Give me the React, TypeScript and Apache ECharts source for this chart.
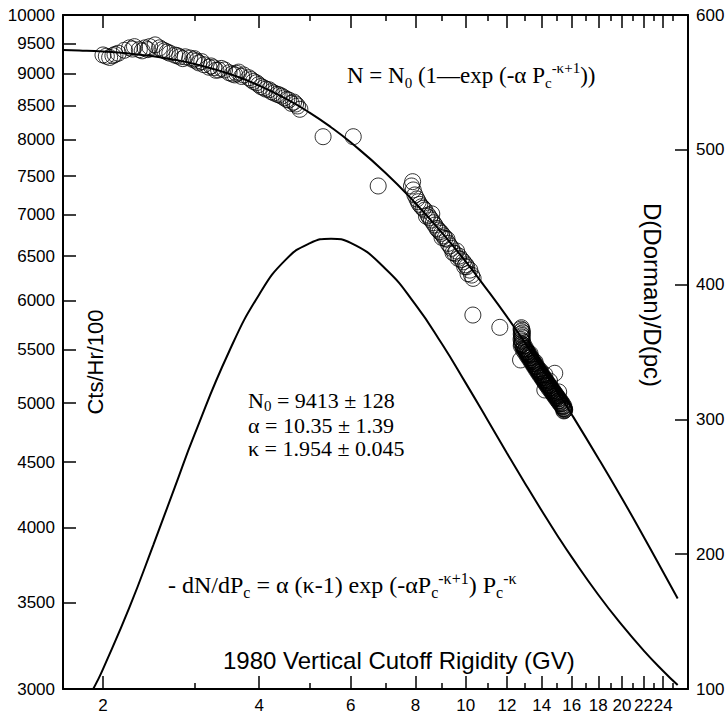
import React, { useEffect, useRef } from 'react';
import * as echarts from 'echarts';

// ---- axis ranges & ticks ----
const X_MIN = 1.675;
const X_MAX = 26.8;
const X_MAJOR = [2, 4, 6, 8, 10, 12, 14, 16, 18, 20, 22, 24];
const X_MINOR = [3, 5, 7, 9, 11, 13, 15, 17, 19, 21, 23, 25];
const Y_LEFT_MIN = 3000;
const Y_LEFT_MAX = 10000;
const Y_LEFT_TICKS = [3000, 3500, 4000, 4500, 5000, 5500, 6000, 6500, 7000, 7500, 8000, 8500, 9000, 9500, 10000];
const Y_RIGHT_MIN = 100;
const Y_RIGHT_MAX = 600;
const Y_RIGHT_STEP = 100;

// ---- observed counting rates (circles), low rigidity part ----
const OBS_P = [
  2.00, 2.03, 2.06, 2.09, 2.14, 2.20, 2.25, 2.30, 2.35, 2.38, 2.41, 2.46, 2.52, 2.57, 2.60, 2.63, 2.69, 2.75, 2.78, 2.81,
  2.88, 2.94, 2.99, 3.00, 3.06, 3.10, 3.13, 3.20, 3.27, 3.30, 3.34, 3.43, 3.50, 3.55, 3.59, 3.65, 3.70, 3.73, 3.82, 3.90,
  3.95, 3.99, 4.08, 4.12, 4.18, 4.27, 4.33, 4.37, 4.47, 4.52, 4.56, 4.66, 4.70, 4.74, 4.79,
  2.11, 2.28, 2.44, 2.66, 2.85, 3.03, 3.23, 3.38, 3.62, 3.86, 4.03, 4.22, 4.42, 4.61,
  5.31, 6.07, 6.78,
  7.86, 7.90, 7.92, 7.98, 8.05, 8.10, 8.22, 8.34, 8.40, 8.46, 8.59, 8.60, 8.72, 8.80, 8.85, 8.98, 9.00, 9.12, 9.20, 9.25,
  9.39, 9.45, 9.53, 9.67, 9.70, 9.89, 9.95, 10.04, 10.10, 10.18, 10.26, 10.33,
  8.15, 8.28, 8.52, 8.66, 8.92, 9.06, 9.32, 9.60, 9.80, 10.0,
  10.32, 11.63,
];
const OBS_N = [
  9311, 9290, 9270, 9300, 9340, 9390, 9430, 9450, 9400, 9380, 9430, 9450, 9480, 9430, 9400, 9380, 9340, 9310, 9300, 9280,
  9280, 9260, 9230, 9250, 9180, 9200, 9150, 9110, 9100, 9060, 9065, 9065, 9020, 9000, 8985, 9030, 8960, 8985, 8940, 8880,
  8860, 8830, 8780, 8760, 8750, 8700, 8680, 8670, 8625, 8600, 8590, 8560, 8530, 8500, 8450,
  9320, 9410, 9400, 9360, 9250, 9210, 9130, 9090, 9010, 8910, 8800, 8720, 8650, 8540,
  8046, 8046, 7368,
  7368, 7425, 7316, 7251, 7200, 7164, 7100, 7058, 6980, 6995, 6933, 7010, 6871, 6830, 6810, 6770, 6720, 6710, 6700, 6650,
  6591, 6540, 6532, 6474, 6500, 6435, 6380, 6378, 6300, 6340, 6284, 6247,
  7130, 7080, 6960, 6900, 6790, 6740, 6620, 6560, 6460, 6400,
  5851, 5724,
];

// ---- observed counting rates, dense high rigidity group ----
const HIGH_P = [
  12.80, 12.78, 12.84, 12.80, 12.86, 12.79, 12.83, 12.81, 12.85, 12.78, 12.82, 12.87, 12.80, 12.84, 12.79, 12.75,
  12.90, 12.94, 12.96, 13.01, 13.03, 13.08, 13.10, 13.13, 13.18, 13.20, 13.25, 13.27, 13.30, 13.36, 13.37, 13.43,
  13.45, 13.48, 13.53, 13.55, 13.61, 13.62, 13.66, 13.72, 13.73, 13.79, 13.81, 13.84, 13.90, 13.92, 13.95, 14.01,
  14.02, 14.07, 14.12, 14.13, 14.19, 14.21, 14.25, 14.30, 14.33, 14.37, 14.42, 14.43, 14.49, 14.53, 14.55, 14.61,
  14.62, 14.66, 14.72, 14.73, 14.79, 14.82, 14.85, 14.90, 14.91, 14.97, 15.01, 15.03, 15.09, 15.10, 15.14, 15.19,
  15.21, 15.26, 15.29, 15.33, 15.37, 15.40, 15.44, 15.46, 15.49, 15.51, 15.48, 15.45,
  13.30, 13.60, 13.90, 14.20, 14.50, 14.84, 14.20, 15.10,
  12.95, 13.05, 13.15, 13.26, 13.36, 13.47, 13.58, 13.69, 13.80, 13.91, 14.03, 14.14, 14.26, 14.38, 14.50, 14.62,
  14.74, 14.86, 14.98, 15.10, 15.22, 15.34, 15.45,
  12.90, 13.00, 13.12, 13.22, 13.33, 13.44, 13.55, 13.66, 13.77, 13.88, 14.00, 14.11, 14.22, 14.34, 14.46, 14.58,
  14.70, 14.82, 14.94, 15.06, 15.18, 15.30, 15.42,
];
const HIGH_N = [
  5720, 5706, 5694, 5681, 5667, 5656, 5641, 5627, 5616, 5602, 5587, 5576, 5561, 5551, 5539, 5400,
  5532, 5516, 5512, 5497, 5495, 5478, 5476, 5461, 5456, 5443, 5438, 5424, 5419, 5405, 5401, 5387,
  5383, 5369, 5366, 5351, 5347, 5333, 5329, 5316, 5311, 5299, 5294, 5281, 5277, 5265, 5261, 5248,
  5244, 5232, 5228, 5215, 5212, 5199, 5196, 5184, 5180, 5168, 5165, 5153, 5150, 5138, 5135, 5123,
  5120, 5108, 5105, 5094, 5091, 5079, 5076, 5065, 5062, 5051, 5048, 5037, 5034, 5023, 5020, 5009,
  5006, 4995, 4991, 4981, 4972, 4966, 4957, 4950, 4946, 4940, 4934, 4930,
  5460, 5380, 5300, 5260, 5200, 5273, 5118, 5100,
  5540, 5510, 5480, 5452, 5423, 5396, 5366, 5340, 5312, 5286, 5259, 5233, 5208, 5183, 5158, 5134,
  5110, 5086, 5064, 5041, 5019, 4998, 4972,
  5500, 5475, 5445, 5420, 5392, 5364, 5337, 5310, 5284, 5258, 5232, 5207, 5182, 5158, 5133, 5110,
  5086, 5063, 5040, 5018, 4997, 4975, 4950,
];

// ---- fitted curve N (left axis) ----
const FIT_P = [1.675, 1.8, 2, 2.25, 2.5, 2.75, 3, 3.5, 4, 4.5, 5, 5.5, 6, 7, 8, 9, 10, 11, 12, 13, 14, 15, 16, 18, 20, 22, 24, 25.6];
const FIT_N = [9396, 9387, 9368, 9334, 9288, 9230, 9163, 9003, 8816, 8612, 8400, 8184, 7966, 7545, 7145, 6775, 6436, 6120, 5834, 5570, 5327, 5105, 4899, 4531, 4216, 3940, 3698, 3526];

// ---- derivative curve (right axis) ----
const DER_P = [1.915, 1.95, 2, 2.25, 2.5, 2.75, 3, 3.5, 4, 4.5, 5, 5.5, 6, 7, 8, 9, 10, 11, 12, 13, 14, 15, 16, 18, 20, 22, 24, 25.6];
const DER_D = [100, 105.8, 114.7, 160.7, 206.8, 249.6, 288.5, 350.4, 392.7, 418.5, 430.6, 434.1, 431.0, 411.8, 385.1, 355.9, 326.9, 300.0, 275.1, 252.7, 232.4, 214.1, 197.8, 169.9, 147.3, 128.7, 113.4, 102.9];

const L = (v: number) => Math.log10(v);
const SANS = '"Liberation Sans", Arial, sans-serif';
const SERIF = '"Liberation Serif", "Times New Roman", serif';
const fmtLog = (v: number) => String(Math.round(Math.pow(10, v)));

function xAxisDef(position: string, values: number[], len: number, showLabel: boolean, showLine: boolean) {
  return {
    type: 'value',
    position,
    min: L(X_MIN),
    max: L(X_MAX),
    axisLine: { show: showLine, onZero: false, lineStyle: { color: '#000', width: 2 } },
    axisTick: {
      show: true,
      inside: true,
      length: len,
      customValues: values.map(L),
      lineStyle: { color: '#000', width: 1.5 },
    },
    axisLabel: {
      show: showLabel,
      customValues: values.map(L),
      formatter: fmtLog,
      color: '#000',
      fontFamily: SANS,
      fontSize: 17,
      margin: 8,
    },
    splitLine: { show: false },
  };
}

function makeRich(size: number, small: number, lh: number) {
  return {
    b: { fontFamily: SERIF, fontSize: size, lineHeight: lh, fill: '#000' },
    s: { fontFamily: SERIF, fontSize: small, lineHeight: lh - 18, verticalAlign: 'bottom', fill: '#000' },
    u: { fontFamily: SERIF, fontSize: small, lineHeight: lh - 16, verticalAlign: 'top', fill: '#000' },
  };
}

function richText(x: number, y: number, text: string, size: number, small: number, lh: number) {
  return {
    type: 'text',
    x,
    y,
    style: {
      text,
      rich: makeRich(size, small, lh),
      align: 'left',
      verticalAlign: 'middle',
      fill: '#000',
      fontFamily: SERIF,
      fontSize: size,
    },
  };
}

function plainText(x: number, y: number, text: string, font: string, size: number, rotation = 0, align = 'left') {
  return {
    type: 'text',
    x,
    y,
    rotation,
    style: { text, align, verticalAlign: 'middle', fill: '#000', fontFamily: font, fontSize: size },
  };
}

const circleStyle = { color: 'rgba(0,0,0,0)', borderColor: '#000', borderWidth: 1 };

export default function App() {
  const ref = useRef<HTMLDivElement>(null);
  useEffect(() => {
    const chart = echarts.init(ref.current!, null, { renderer: 'svg' });
    const option: any = {
      animation: false,
      backgroundColor: '#fff',
      grid: { left: 63, right: 40, top: 15, bottom: 28, containLabel: false },
      xAxis: [
        xAxisDef('bottom', X_MAJOR, 13, true, true),
        xAxisDef('bottom', X_MINOR, 6, false, false),
        xAxisDef('top', X_MAJOR, 13, false, true),
        xAxisDef('top', X_MINOR, 6, false, false),
      ],
      yAxis: [
        {
          type: 'value',
          position: 'left',
          min: L(Y_LEFT_MIN),
          max: L(Y_LEFT_MAX),
          axisLine: { show: true, onZero: false, lineStyle: { color: '#000', width: 2 } },
          axisTick: {
            show: true,
            inside: true,
            length: 13,
            customValues: Y_LEFT_TICKS.map(L),
            lineStyle: { color: '#000', width: 1.5 },
          },
          axisLabel: {
            customValues: Y_LEFT_TICKS.map(L),
            formatter: fmtLog,
            color: '#000',
            fontFamily: SANS,
            fontSize: 17,
            margin: 8,
          },
          splitLine: { show: false },
        },
        {
          type: 'value',
          position: 'right',
          min: Y_RIGHT_MIN,
          max: Y_RIGHT_MAX,
          interval: Y_RIGHT_STEP,
          axisLine: { show: true, onZero: false, lineStyle: { color: '#000', width: 2 } },
          axisTick: { show: true, inside: true, length: 13, lineStyle: { color: '#000', width: 1.5 } },
          axisLabel: { color: '#000', fontFamily: SANS, fontSize: 17, margin: 8 },
          splitLine: { show: false },
        },
      ],
      series: [
        {
          type: 'line',
          xAxisIndex: 0,
          yAxisIndex: 0,
          data: FIT_P.map((p, i) => [L(p), L(FIT_N[i])]),
          showSymbol: false,
          smooth: true,
          lineStyle: { color: '#000', width: 2 },
          silent: true,
        },
        {
          type: 'line',
          xAxisIndex: 0,
          yAxisIndex: 1,
          data: DER_P.map((p, i) => [L(p), DER_D[i]]),
          showSymbol: false,
          smooth: true,
          lineStyle: { color: '#000', width: 2 },
          silent: true,
        },
        {
          type: 'scatter',
          xAxisIndex: 0,
          yAxisIndex: 0,
          data: OBS_P.map((p, i) => [L(p), L(OBS_N[i])]),
          symbol: 'circle',
          symbolSize: 16,
          itemStyle: circleStyle,
          silent: true,
        },
        {
          type: 'scatter',
          xAxisIndex: 0,
          yAxisIndex: 0,
          data: HIGH_P.map((p, i) => [L(p), L(HIGH_N[i])]),
          symbol: 'circle',
          symbolSize: 16,
          itemStyle: circleStyle,
          silent: true,
        },
      ],
      graphic: [
        richText(347, 75, '{b|N = N}{s|0}{b| (1—exp (-α P}{s|c}{u|-κ+1}{b|))}', 23, 15, 30),
        richText(248, 400, '{b|N}{s|0}{b| = 9413 ± 128}', 22, 15, 26),
        plainText(248, 425, 'α = 10.35 ± 1.39', SERIF, 22),
        plainText(248, 448, 'κ = 1.954 ± 0.045', SERIF, 22),
        richText(168, 585, '{b|- dN/dP}{s|c}{b| = α (κ-1) exp (-αP}{s|c}{u|-κ+1}{b|) P}{s|c}{u|-κ}', 24, 16, 30),
        plainText(223, 660, '1980 Vertical Cutoff Rigidity (GV)', SANS, 24),
        plainText(95, 362, 'Cts/Hr/100', SANS, 22, Math.PI / 2, 'center'),
        plainText(652, 295, 'D(Dorman)/D(pc)', SANS, 24, -Math.PI / 2, 'center'),
      ],
    };
    chart.setOption(option);
    return () => chart.dispose();
  }, []);
  return (
    <div
      ref={ref}
      style={{ position: 'fixed', left: 0, top: 0, width: 728, height: 717, background: '#fff' }}
    />
  );
}
